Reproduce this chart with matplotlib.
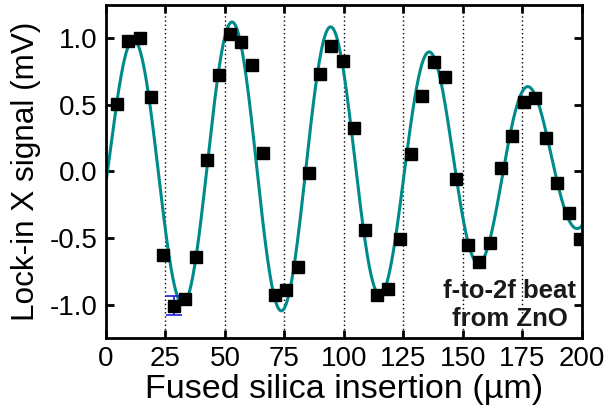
import numpy as np
import matplotlib
matplotlib.use("Agg")
import matplotlib.pyplot as plt

plt.rcParams['font.family'] = ['Liberation Sans', 'DejaVu Sans']

# mesures (insertion en µm, signal en mV)
insertion = [4.5, 9.1, 14.2, 18.8, 23.8, 28.5, 33.1, 37.8, 42.4, 47.5,
             52.1, 56.7, 61.4, 66.0, 71.1, 75.8, 80.8, 85.4, 90.0, 94.7,
             99.7, 104.3, 109.0, 114.0, 118.7, 123.7, 128.0, 132.6, 137.7, 142.3,
             147.0, 152.0, 156.7, 161.4, 166.0, 170.6, 175.5, 180.2, 184.9, 189.5,
             194.5, 199.1]
signal = [0.51, 0.98, 1.00, 0.56, -0.63, -1.01, -0.955, -0.64, 0.09, 0.725,
          1.03, 0.97, 0.80, 0.14, -0.93, -0.89, -0.72, -0.01, 0.73, 0.94,
          0.83, 0.33, -0.44, -0.93, -0.88, -0.51, 0.13, 0.57, 0.82, 0.71,
          -0.06, -0.55, -0.68, -0.54, 0.03, 0.27, 0.52, 0.55, 0.25, -0.09,
          -0.31, -0.51]
# barre d'erreur sur un seul point
err_x = [28.5]
err_y = [-1.005]
err_val = [0.07]

# paramètres du fit
fit_amp = 1.09
fit_center = 65.0
fit_width = 145.0
fit_period = 41.6
fit_x0 = 0.9
fit_offset = 0.04

xs = np.linspace(0, 200, 1000)
fit = fit_offset + fit_amp * np.exp(-((xs - fit_center) / fit_width) ** 2) * \
    np.sin(2 * np.pi * (xs - fit_x0) / fit_period)

fig = plt.figure(figsize=(6.04, 4.13), dpi=100)
ax = fig.add_axes([0.1755, 0.1816, 0.788, 0.8063])

# lignes verticales pointillées
for xv in [25, 50, 75, 100, 125, 150, 175]:
    ax.axvline(xv, color='black', linestyle=(0, (1, 2)), linewidth=1, zorder=1)

ax.plot(xs, fit, color='#008b8b', linewidth=2.2, zorder=2)
ax.errorbar(err_x, err_y, yerr=err_val, fmt='none', ecolor='#1f1fdd',
            elinewidth=1.2, capsize=5.5, capthick=1.2, zorder=3)
ax.plot(insertion, signal, 's', color='black', markersize=8.2, zorder=4)

ax.set_xlim(0, 200)
ax.set_ylim(-1.25, 1.25)
ax.set_xticks([0, 25, 50, 75, 100, 125, 150, 175, 200])
ax.set_yticks([-1.0, -0.5, 0.0, 0.5, 1.0])
ax.set_yticklabels(['-1.0', '-0.5', '0.0', '0.5', '1.0'])
ax.tick_params(direction='in', length=6, width=2, labelsize=20,
               top=True, right=True, pad=6)
for s in ax.spines.values():
    s.set_linewidth(2)

ax.set_xlabel('Fused silica insertion (µm)', fontsize=24.5, labelpad=1)
ax.set_ylabel('Lock-in X signal (mV)', fontsize=22.7, labelpad=6)

ax.text(0.848, 0.10, 'f-to-2f beat\nfrom ZnO', transform=ax.transAxes,
        ha='center', va='center', fontsize=18.5, fontweight='bold',
        color='#1a1a1a', linespacing=1.2)

fig.savefig('out.png', dpi=100)
